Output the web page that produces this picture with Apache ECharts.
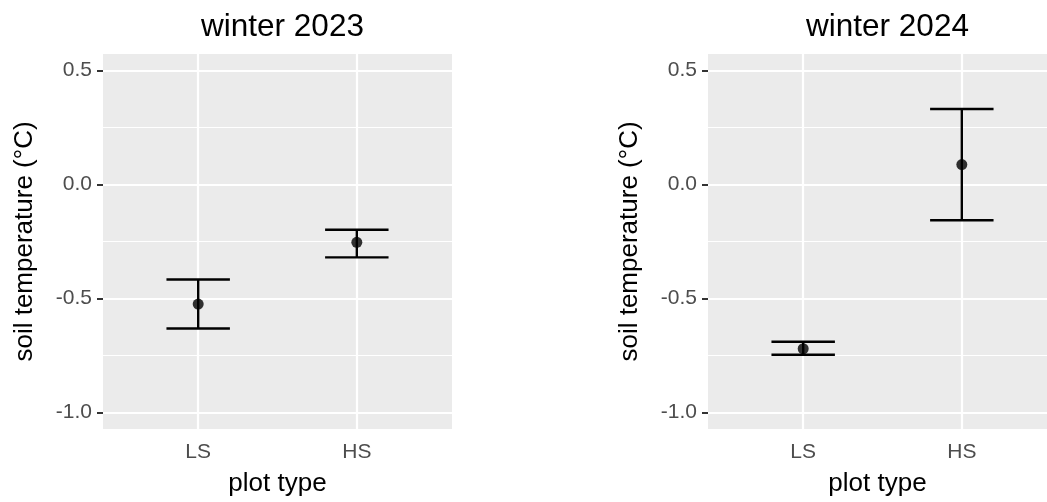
<!DOCTYPE html>
<html>
<head>
<meta charset="utf-8">
<script src="https://cdn.jsdelivr.net/npm/echarts@6/dist/echarts.min.js"></script>
<style>
  html, body { margin: 0; padding: 0; background: #ffffff; }
  #chart { width: 1047px; height: 502px; }
</style>
</head>
<body>
<div id="chart"></div>
<script>
// Plot types on the x axis
const categories = ['LS', 'HS'];

// Winter 2023: mean soil temperature with error bar limits (°C)
const w2023Mean  = [-0.524, -0.253];
const w2023Lower = [-0.631, -0.319];
const w2023Upper = [-0.416, -0.198];

// Winter 2024
const w2024Mean  = [-0.720, 0.088];
const w2024Lower = [-0.746, -0.156];
const w2024Upper = [-0.689, 0.332];

// Y axis breaks
const yMajor = [-1.0, -0.5, 0.0, 0.5];
const yMinor = [-0.75, -0.25, 0.25];

const panelTitles = ['winter 2023', 'winter 2024'];

const FONT = 'Liberation Sans, Arial, sans-serif';
const Y_MIN = -1.072, Y_MAX = 0.573;
const X_MIN = 0.4;
const CAP_HALF = 0.2;

// second panel runs past the right edge of the page, so its visible range is cut short
const panelLayout = [
  { left: 103, top: 54, width: 349, height: 380, xMax: 2.6, center: 277.5 },
  { left: 708, top: 54, width: 339, height: 380, xMax: 0.4 + 339 / 349 * 2.2, center: 882.5 }
];

const chart = echarts.init(document.getElementById('chart'), null, { renderer: 'canvas' });

const panels = [
  { mean: w2023Mean, lower: w2023Lower, upper: w2023Upper },
  { mean: w2024Mean, lower: w2024Lower, upper: w2024Upper }
];

const xPositions = categories.map((c, i) => i + 1);

function gridLineData() {
  const d = [];
  yMinor.forEach(v => d.push({ yAxis: v, lineStyle: { width: 1.1 } }));
  yMajor.forEach(v => d.push({ yAxis: v, lineStyle: { width: 2.2 } }));
  xPositions.forEach(v => d.push({ xAxis: v, lineStyle: { width: 2.2 } }));
  return d;
}

const option = {
  animation: false,
  backgroundColor: '#ffffff',
  title: panelTitles.map((t, i) => ({
    text: t,
    left: panelLayout[i].center,
    top: 6,
    textAlign: 'center',
    textStyle: { fontFamily: FONT, fontSize: 31.5, fontWeight: 'normal', color: '#000000' }
  })),
  grid: panelLayout.map(g => ({
    show: true, backgroundColor: '#EBEBEB', borderWidth: 0, containLabel: false,
    left: g.left, top: g.top, width: g.width, height: g.height
  })),
  xAxis: panelLayout.map((g, i) => ({
    type: 'value',
    gridIndex: i,
    min: X_MIN,
    max: g.xMax,
    name: 'plot type',
    nameLocation: 'middle',
    nameGap: 42,
    nameTextStyle: { fontFamily: FONT, fontSize: 26, color: '#000000' },
    axisLine: { show: false },
    axisTick: { show: true, customValues: xPositions, length: 6, lineStyle: { color: '#333333', width: 2 } },
    axisLabel: {
      customValues: xPositions,
      margin: 13,
      fontFamily: FONT, fontSize: 21, color: '#4D4D4D',
      formatter: v => categories[Math.round(v) - 1] || ''
    },
    splitLine: { show: false }
  })),
  yAxis: panelLayout.map((g, i) => ({
    type: 'value',
    gridIndex: i,
    min: Y_MIN,
    max: Y_MAX,
    name: 'soil temperature (°C)',
    nameLocation: 'middle',
    nameRotate: 90,
    nameGap: 65,
    nameTextStyle: { fontFamily: FONT, fontSize: 26, color: '#000000' },
    axisLine: { show: false },
    axisTick: { show: true, customValues: yMajor, length: 6, lineStyle: { color: '#333333', width: 2 } },
    axisLabel: {
      customValues: yMajor,
      margin: 11,
      fontFamily: FONT, fontSize: 21, color: '#4D4D4D',
      formatter: v => v.toFixed(1)
    },
    splitLine: { show: false }
  })),
  series: []
};

panels.forEach((p, i) => {
  // white panel grid lines
  option.series.push({
    type: 'line',
    xAxisIndex: i, yAxisIndex: i,
    data: [],
    silent: true,
    z: 1,
    markLine: {
      silent: true,
      z: 1,
      symbol: ['none', 'none'],
      label: { show: false },
      lineStyle: { color: '#ffffff', type: 'solid' },
      emphasis: { disabled: true },
      data: gridLineData()
    }
  });
  // error bars
  option.series.push({
    type: 'custom',
    xAxisIndex: i, yAxisIndex: i,
    z: 3,
    silent: true,
    data: xPositions.map((x, k) => [x, p.lower[k], p.upper[k]]),
    encode: { x: 0, y: [1, 2] },
    renderItem: (params, api) => {
      const x = api.value(0);
      const lo = api.coord([x, api.value(1)]);
      const hi = api.coord([x, api.value(2)]);
      const l = api.coord([x - CAP_HALF, api.value(1)])[0];
      const r = api.coord([x + CAP_HALF, api.value(1)])[0];
      const style = { stroke: '#000000', lineWidth: 2.4, fill: null };
      return {
        type: 'group',
        children: [
          { type: 'line', shape: { x1: lo[0], y1: lo[1], x2: hi[0], y2: hi[1] }, style },
          { type: 'line', shape: { x1: l, y1: lo[1], x2: r, y2: lo[1] }, style },
          { type: 'line', shape: { x1: l, y1: hi[1], x2: r, y2: hi[1] }, style }
        ]
      };
    }
  });
  // means
  option.series.push({
    type: 'scatter',
    xAxisIndex: i, yAxisIndex: i,
    z: 4,
    symbol: 'circle',
    symbolSize: 11,
    itemStyle: { color: '#000000' },
    data: xPositions.map((x, k) => [x, p.mean[k]])
  });
});

chart.setOption(option);
</script>
</body>
</html>
